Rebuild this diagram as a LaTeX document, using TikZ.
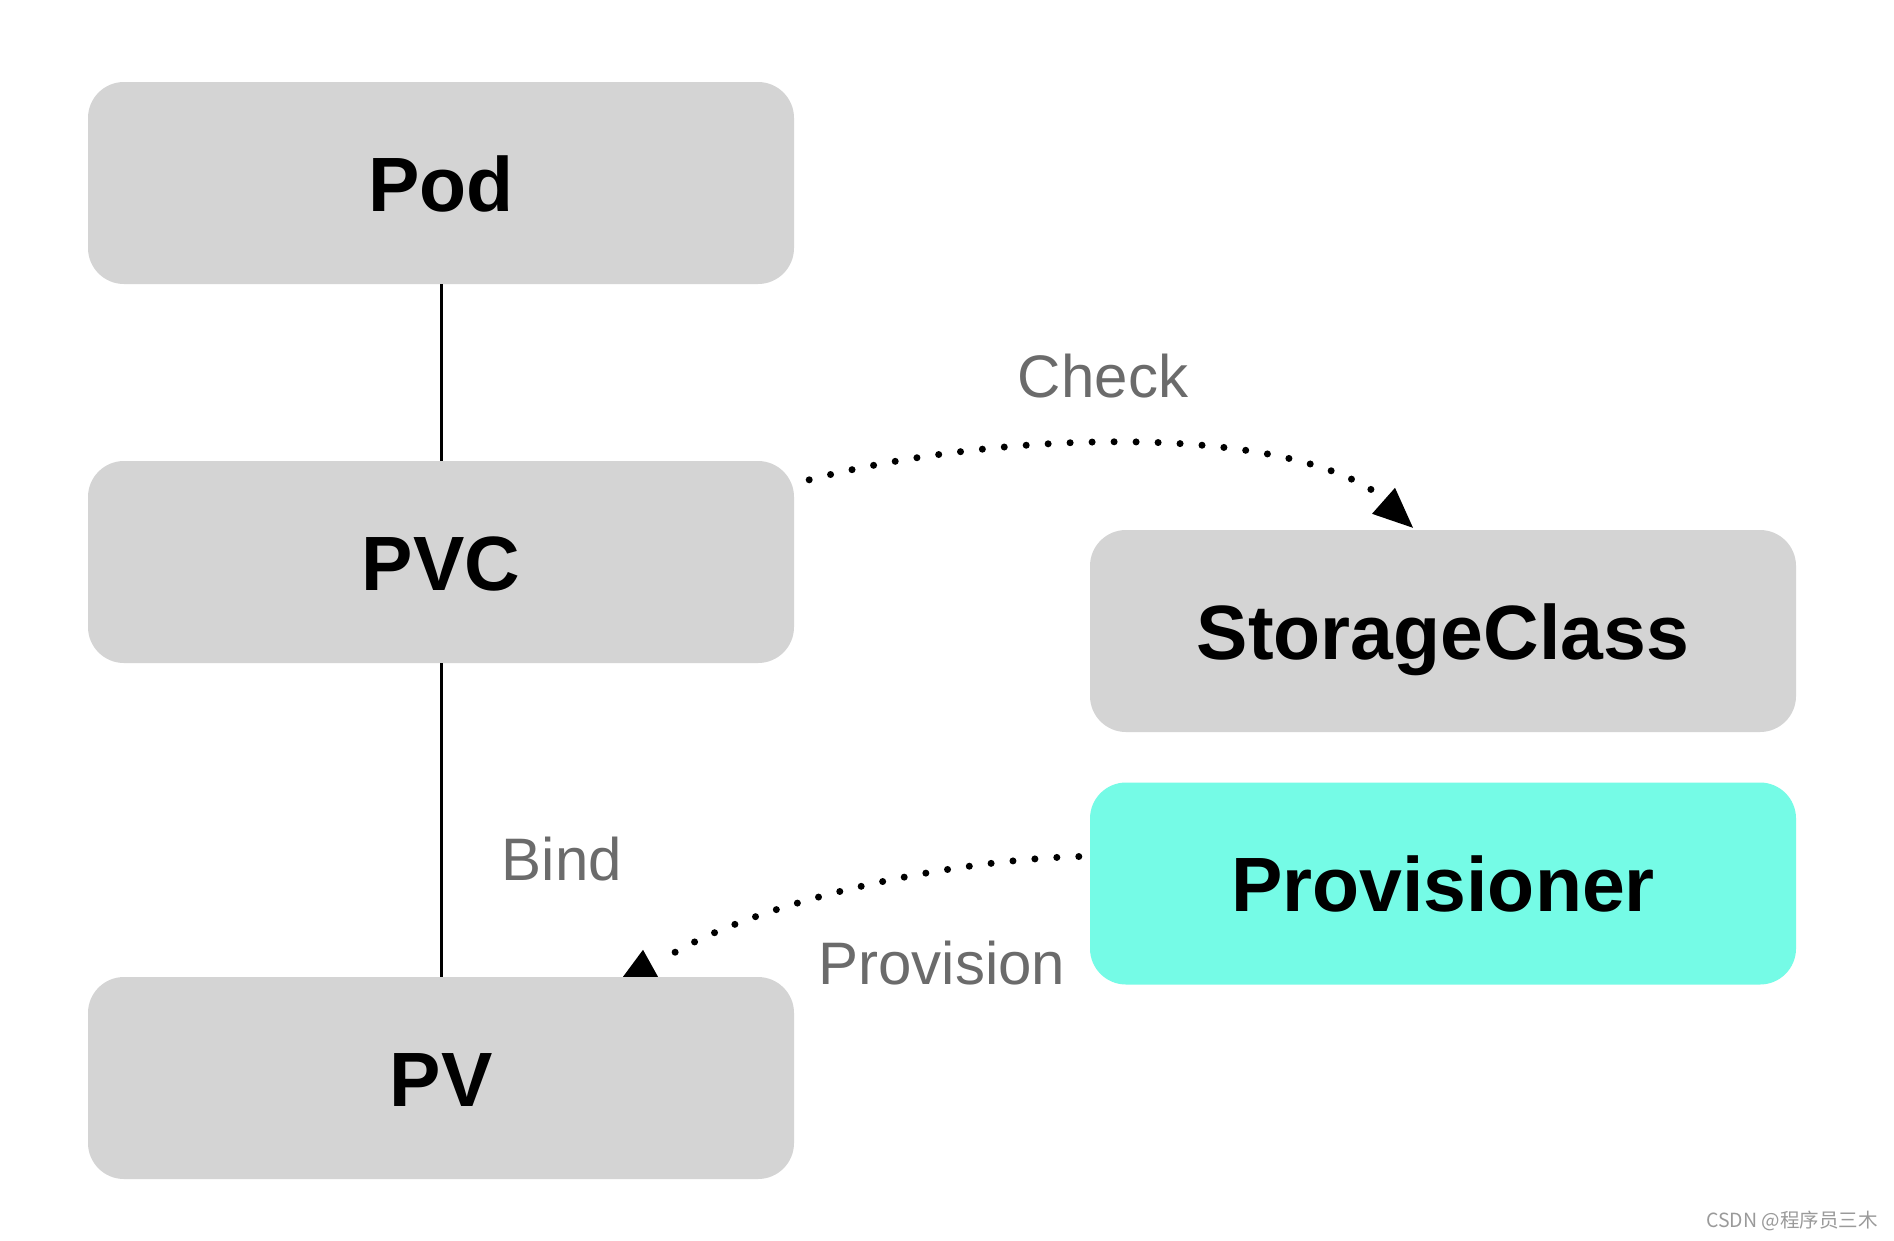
\documentclass[tikz,border=0pt]{standalone}
\usepackage{fontspec}
\setmainfont{Liberation Sans}
\newfontfamily\cjk{Noto Sans CJK SC}
\usetikzlibrary{calc,arrows.meta}
\definecolor{boxgray}{HTML}{D4D4D4}
\definecolor{provcyan}{HTML}{75FBE6}
\definecolor{labgray}{HTML}{6B6B6B}
\definecolor{wmgray}{HTML}{9A9A9A}
\tikzset{
  box/.style={fill=boxgray, draw=none, rounded corners=36pt, minimum width=706pt, minimum height=202pt, inner sep=0pt, text height=56pt, text depth=0pt, font=\fontsize{77}{90}\selectfont\bfseries},
  lab/.style={text=labgray, inner sep=0pt, font=\fontsize{60}{70}\selectfont},
  link/.style={line width=3pt, black},
  dotlink/.style={line width=7pt, line cap=round, dash pattern=on 0pt off 22pt, black},
}
\begin{document}
\begin{tikzpicture}[x=1pt,y=-1pt]
\useasboundingbox (0,0) rectangle (1894,1240);
\fill[white] (0,0) rectangle (1894,1240);
\node[box] (pod) at (441,183) {Pod};
\node[box] (pvc) at (441,562) {PVC};
\node[box] (pv) at (441,1078) {PV};
\node[box] (sc) at (1443,631) {StorageClass};
\node[box, fill=provcyan] (prov) at (1443,883.5) {Provisioner};
\draw[link] (pod) -- (pvc);
\draw[link] (pvc) -- (pv);
\coordinate (cs) at ($(pvc.north east)+(15,19)$);
\coordinate (ce) at ($(sc.north)+(-30,-2)$);
\draw[dotlink] (cs) .. controls (1000,430) and (1300,420) .. ($(ce)+(-20,-22)$);
\fill[black] (ce) -- ++(-41,-14) -- ++(23,-26) -- cycle;
\coordinate (ps) at ($(prov.west)+(-11,-27)$);
\coordinate (pe) at (667,957);
\draw[dotlink] (ps) .. controls (950,860) and (760,900) .. (pe);
\fill[black] ($(pv.north)+(182,0)$) -- ++(35,0) -- ++(-15,-27) -- cycle;
\node[lab] (check) at (1103,376) {Check};
\node[lab] (bind) at (562,859) {Bind};
\node[lab] (provl) at (942,963) {Provision};
\node[text=wmgray, anchor=east, inner sep=0pt, font=\cjk\fontsize{19.5}{22}\selectfont] (wm) at (1878,1221) {CSDN @程序员三木};
\end{tikzpicture}
\end{document}
